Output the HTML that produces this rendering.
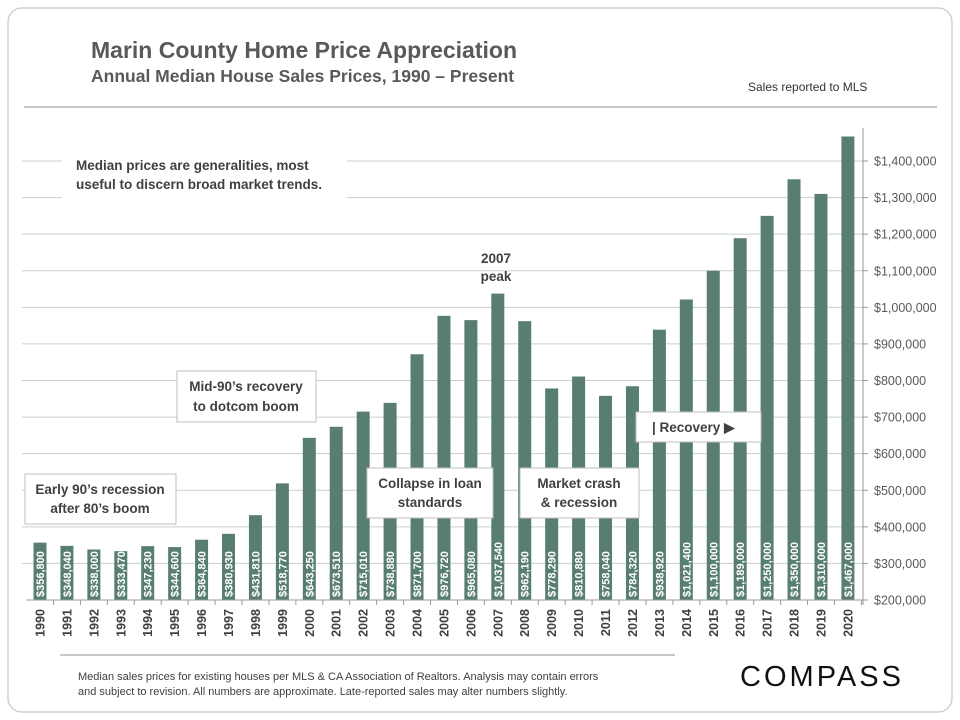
<!DOCTYPE html>
<html><head><meta charset="utf-8"><style>
body{margin:0;background:#fff;font-family:"Liberation Sans",sans-serif}
svg{display:block}
</style></head><body>
<svg id="c" width="960" height="720">
<rect x="8" y="8" width="944" height="704" rx="14" fill="#fff" stroke="#d0d0d0" stroke-width="1.5"/>
<text x="91" y="58" font-size="23" font-weight="bold" fill="#595959">Marin County Home Price Appreciation</text>
<text x="91" y="82" font-size="17.5" font-weight="bold" fill="#595959">Annual Median House Sales Prices, 1990 – Present</text>
<text x="748" y="91" font-size="12" fill="#333">Sales reported to MLS</text>
<line x1="24" y1="107" x2="937" y2="107" stroke="#a6a6a6" stroke-width="1.2"/>
<g id="grid"></g><g id="bars"></g><g id="axis"></g>
<g id="notes" font-size="13.5" font-weight="bold" fill="#404040">
<rect x="62" y="150" width="285" height="50" fill="#fff"/>
<text x="76" y="170">Median prices are generalities, most</text>
<text x="76" y="189">useful to discern broad market trends.</text>
<text x="496" y="263" text-anchor="middle">2007</text>
<text x="496" y="281" text-anchor="middle">peak</text>
<rect x="177" y="371" width="139" height="51" fill="#fff" stroke="#bfbfbf"/>
<text x="246" y="391" text-anchor="middle">Mid-90’s recovery</text>
<text x="246" y="411" text-anchor="middle">to dotcom boom</text>
<rect x="25" y="474" width="151" height="50" fill="#fff" stroke="#bfbfbf"/>
<text x="100" y="494" text-anchor="middle">Early 90’s recession</text>
<text x="100" y="513" text-anchor="middle">after 80’s boom</text>
<rect x="367" y="468" width="126" height="50" fill="#fff" stroke="#bfbfbf"/>
<text x="430" y="488" text-anchor="middle">Collapse in loan</text>
<text x="430" y="507" text-anchor="middle">standards</text>
<rect x="520" y="468" width="119" height="50" fill="#fff" stroke="#bfbfbf"/>
<text x="579" y="488" text-anchor="middle">Market crash</text>
<text x="579" y="507" text-anchor="middle">&amp; recession</text>
<rect x="636" y="412" width="125" height="30" fill="#fff" stroke="#bfbfbf"/>
<text x="652" y="432">| Recovery ▶</text>
</g>
<line x1="60" y1="655" x2="675" y2="655" stroke="#a6a6a6" stroke-width="1.2"/>
<text x="78" y="680" font-size="11" fill="#404040">Median sales prices for existing houses per MLS &amp; CA Association of Realtors. Analysis may contain errors</text>
<text x="78" y="695" font-size="11" fill="#404040">and subject to revision.  All numbers are approximate.  Late-reported sales may alter numbers slightly.</text>
<text x="822" y="686" font-size="29" fill="#111" text-anchor="middle" letter-spacing="3">COMPASS</text>
</svg>
<script>
const years=[1990,1991,1992,1993,1994,1995,1996,1997,1998,1999,2000,2001,2002,2003,2004,2005,2006,2007,2008,2009,2010,2011,2012,2013,2014,2015,2016,2017,2018,2019,2020];
const prices=[356800,348040,338000,333470,347230,344600,364840,380930,431810,518770,643250,673510,715010,738880,871700,976720,965080,1037540,962190,778290,810880,758040,784320,938920,1021400,1100000,1189000,1250000,1350000,1310000,1467000];
const labels=["$356,800","$348,040","$338,000","$333,470","$347,230","$344,600","$364,840","$380,930","$431,810","$518,770","$643,250","$673,510","$715,010","$738,880","$871,700","$976,720","$965,080","$1,037,540","$962,190","$778,290","$810,880","$758,040","$784,320","$938,920","$1,021,400","$1,100,000","$1,189,000","$1,250,000","$1,350,000","$1,310,000","$1,467,000"];
const ticks=[200000,300000,400000,500000,600000,700000,800000,900000,1000000,1100000,1200000,1300000,1400000];
const NS="http://www.w3.org/2000/svg";
const y=v=>600-(v-200000)*(439/1200000);
const x=i=>40+i*26.93;
function mk(t,a,p){const e=document.createElementNS(NS,t);for(const k in a)e.setAttribute(k,a[k]);p.appendChild(e);return e;}
const G=document.getElementById('grid'),B=document.getElementById('bars'),A=document.getElementById('axis');
ticks.forEach(t=>{
 if(t>200000){const l=mk('line',{x1:22,x2:862,y1:y(t),y2:y(t),stroke:'#c8d0cc','stroke-width':1},G);
 
 }
 const k=mk('line',{x1:862,x2:868,y1:y(t),y2:y(t),stroke:'#999'},A);
 
 
 const tx=mk('text',{x:874,y:y(t)+4.5,'font-size':12.5,fill:'#595959'},A);
 tx.textContent='$'+t.toLocaleString('en-US');
 
 
});
const ax=mk('line',{x1:863,x2:863,y1:128,y2:605,stroke:'#999'},A);


const bl=mk('line',{x1:26,x2:863,y1:600,y2:600,stroke:'#999'},A);


years.forEach((yr,i)=>{
 const cx=x(i),top=y(prices[i]);
 const r=mk('rect',{x:cx-6.5,y:top,width:13,height:600-top,fill:'#587e6f'},B);
 
 
 const t=mk('text',{x:0,y:0,'font-size':11,'font-weight':'bold',fill:'#fff',transform:`translate(${cx+4},597) rotate(-90)`},B);
 t.textContent=labels[i];
 
 
 const tk=mk('line',{x1:cx+13.5,x2:cx+13.5,y1:600,y2:605,stroke:'#999'},A);
 
 
 const yl=mk('text',{x:0,y:0,'font-size':12.5,'font-weight':'bold',fill:'#404040','text-anchor':'end',transform:`translate(${cx+4.5},609) rotate(-90)`},A);
 yl.textContent=yr;
 
 
});
</script>
</body></html>
